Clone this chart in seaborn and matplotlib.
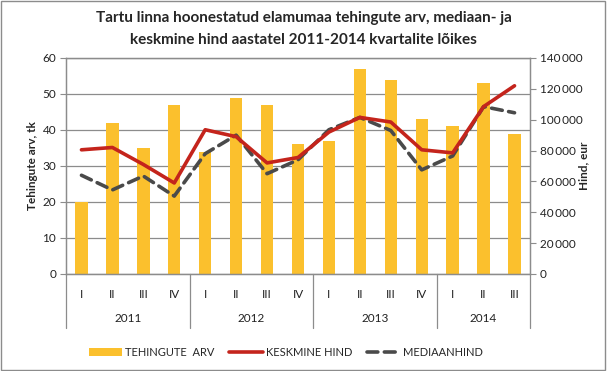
import numpy as np
import pandas as pd
import matplotlib
matplotlib.use("Agg")
import matplotlib.pyplot as plt
import matplotlib.transforms as mtransforms
from matplotlib.lines import Line2D
from matplotlib.patches import Patch
import seaborn as sns

quarters = ["I", "II", "III", "IV", "I", "II", "III", "IV", "I", "II", "III", "IV", "I", "II", "III"]
years = ["2011", "2012", "2013", "2014"]
year_counts = [4, 4, 4, 3]
tehingute_arv = [20, 42, 35, 47, 34, 49, 47, 36, 37, 57, 54, 43, 41, 53, 39]
keskmine_hind = [80500, 82000, 71000, 59000, 93500, 89000, 72000, 75500, 92000, 101500, 98500, 80500, 78500, 108500, 122000]
mediaanhind = [64000, 54500, 63500, 50500, 78000, 90000, 65000, 74000, 93500, 101500, 93000, 67500, 76500, 108500, 104500]

sns.set_theme(style="white")
plt.rcParams['font.family'] = ['Lato', 'DejaVu Sans']

df = pd.DataFrame({
    "pos": np.arange(len(quarters)),
    "arv": tehingute_arv,
    "kesk": keskmine_hind,
    "med": mediaanhind,
})

BAR = "#FBC02D"
RED = "#C4241C"
GRAY = "#4A4A4A"
GRID = "#8C8C8C"

fig = plt.figure(figsize=(6.07, 3.71), dpi=100)
ax = fig.add_axes([66/607, 1-274/371, (530-66)/607, (274-58)/371])

sns.barplot(data=df, x="pos", y="arv", color=BAR, width=0.4, ax=ax, saturation=1, zorder=2,
            edgecolor="none", linewidth=0)
ax.set_ylim(0, 60)
ax.set_xlim(-0.5, len(quarters) - 0.5)
ax.set_yticks(range(0, 61, 10))
ax.yaxis.grid(True, color=GRID, linewidth=0.9, zorder=0)
ax.set_axisbelow(True)
ax.set_xticks(range(len(quarters)))
ax.set_xticklabels(quarters, fontsize=8.5, color="#222222")
ax.tick_params(axis="x", length=0, pad=11)
ax.tick_params(axis="y", length=4, width=0.8, color=GRID, direction="out", labelsize=8.5, labelcolor="#222222", pad=3, left=True)
ax.set_xlabel("")
ax.set_ylabel("Tehingute arv, tk", fontsize=8.5, fontweight="bold", labelpad=3)
for s in ["left", "bottom", "right", "top"]:
    ax.spines[s].set_color(GRID)
    ax.spines[s].set_linewidth(0.9)

ax2 = ax.twinx()
sns.lineplot(data=df, x="pos", y="kesk", color=RED, linewidth=2.6, ax=ax2, zorder=4)
sns.lineplot(data=df, x="pos", y="med", color=GRAY, linewidth=2.6, ax=ax2, zorder=3)
ax2.lines[1].set_dashes([3.0, 1.8])
ax2.lines[1].set_dash_capstyle("round")
ax2.set_ylim(0, 140000)
ax2.set_yticks(range(0, 140001, 20000))
ax2.set_yticklabels([f"{v:,}".replace(",", "\u2009") if v else "0" for v in range(0, 140001, 20000)])
ax2.tick_params(axis="y", length=4, width=0.8, color=GRID, direction="out", labelsize=8.5, labelcolor="#222222", pad=3, right=True)
ax2.set_ylabel("Hind, eur", fontsize=8.5, fontweight="bold", labelpad=-3)
ax2.set_xlabel("")
ax2.set_xlim(-0.5, len(quarters) - 0.5)
for s in ["left", "bottom", "right", "top"]:
    ax2.spines[s].set_color(GRID)
    ax2.spines[s].set_linewidth(0.9)
if ax2.get_legend():
    ax2.get_legend().remove()

# year groups
trans = mtransforms.blended_transform_factory(ax.transData, ax.transAxes)
bounds = np.concatenate([[0], np.cumsum(year_counts)]) - 0.5
for b in bounds:
    ax.add_line(Line2D([b, b], [0, -54/216], transform=trans, color=GRID, linewidth=0.9, clip_on=False))
for i, y in enumerate(years):
    c = (bounds[i] + bounds[i + 1]) / 2
    ax.text(c, -44/216, y, transform=trans, ha="center", va="center", fontsize=8.5, color="#222222")

fig.text(0.5, 1-18/371, "Tartu linna hoonestatud elamumaa tehingute arv, mediaan- ja", ha="center", va="center", fontsize=11, fontweight="bold")
fig.text(0.5, 1-40/371, "keskmine hind aastatel 2011-2014 kvartalite lõikes", ha="center", va="center", fontsize=11, fontweight="bold")

handles = [
    Patch(facecolor=BAR, edgecolor="none"),
    Line2D([0], [0], color=RED, linewidth=2.6),
    Line2D([0], [0], color=GRAY, linewidth=2.6, dashes=[3.0, 1.8], dash_capstyle="round"),
]
fig.legend(handles, ["TEHINGUTE  ARV", "KESKMINE HIND", "MEDIAANHIND"], loc="center",
           bbox_to_anchor=(286/607, 1-352/371), ncol=3, frameon=False, fontsize=8,
           handlelength=3.0, handletextpad=0.3, columnspacing=1.3)

fig.add_artist(plt.Rectangle((0.002, 0.003), 0.995, 0.994, transform=fig.transFigure, fill=False, edgecolor="#8C8C8C", linewidth=1))

fig.savefig("out.png", dpi=100)
